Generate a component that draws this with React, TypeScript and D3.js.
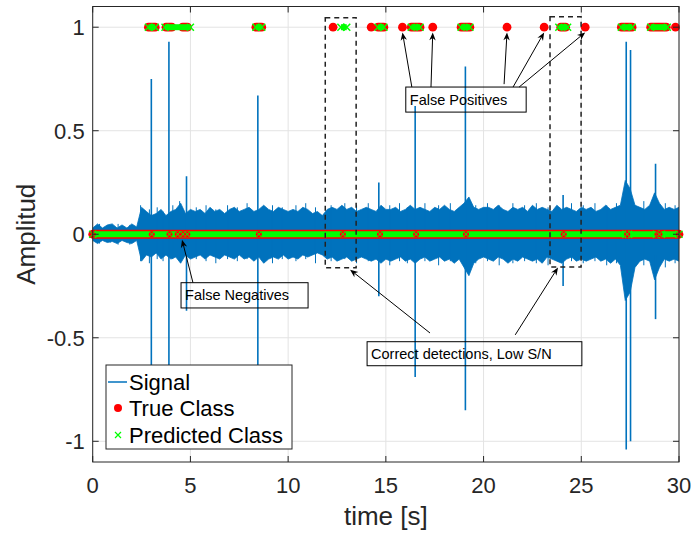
import React from 'react'
import * as d3 from 'd3'

const envStep = 0.25
const envTop = [
	0.03, 0.05, 0.03, 0.045, 0.05, 0.03, 0.045, 0.03, 0.05, 0.035,
	0.13, 0.11, 0.09, 0.10, 0.12, 0.09, 0.11, 0.12, 0.15, 0.10, 0.12,
	0.11, 0.12, 0.10, 0.13, 0.11, 0.12, 0.10, 0.12, 0.13, 0.11, 0.12, 0.13, 0.11, 0.12, 0.14, 0.12, 0.11, 0.13, 0.12, 0.11,
	0.12, 0.11, 0.13, 0.12, 0.10, 0.11, 0.09, 0.12, 0.13, 0.12, 0.14, 0.12, 0.13, 0.11, 0.12, 0.13, 0.12, 0.11, 0.14, 0.12,
	0.12, 0.13, 0.11, 0.12, 0.14, 0.12, 0.13, 0.12, 0.11, 0.13, 0.12, 0.14, 0.12, 0.11, 0.13, 0.15, 0.18, 0.13, 0.12, 0.13,
	0.13, 0.12, 0.14, 0.12, 0.11, 0.13, 0.12, 0.13, 0.11, 0.14, 0.12, 0.13, 0.12, 0.11, 0.14, 0.12, 0.13, 0.12, 0.11, 0.13,
	0.12, 0.13, 0.11, 0.12, 0.14, 0.12, 0.13, 0.14, 0.26, 0.22, 0.14, 0.13, 0.12, 0.14, 0.20, 0.15, 0.12, 0.13, 0.12, 0.13,
]
const envBottom = [
	-0.03, -0.045, -0.03, -0.04, -0.035, -0.045, -0.03, -0.04, -0.045, -0.03,
	-0.13, -0.10, -0.11, -0.09, -0.12, -0.10, -0.12, -0.11, -0.14, -0.10, -0.12,
	-0.11, -0.10, -0.12, -0.10, -0.11, -0.12, -0.10, -0.11, -0.12, -0.10, -0.12, -0.11, -0.13, -0.11, -0.14, -0.12, -0.11, -0.12, -0.10, -0.12,
	-0.11, -0.12, -0.10, -0.11, -0.10, -0.09, -0.10, -0.12, -0.11, -0.13, -0.12, -0.11, -0.13, -0.12, -0.11, -0.12, -0.13, -0.12, -0.14, -0.12,
	-0.13, -0.12, -0.11, -0.13, -0.12, -0.14, -0.12, -0.11, -0.13, -0.12, -0.11, -0.13, -0.12, -0.14, -0.12, -0.16, -0.20, -0.14, -0.12, -0.11,
	-0.12, -0.13, -0.11, -0.12, -0.14, -0.12, -0.13, -0.11, -0.12, -0.13, -0.12, -0.14, -0.11, -0.12, -0.13, -0.14, -0.12, -0.11, -0.13, -0.12,
	-0.13, -0.12, -0.11, -0.13, -0.12, -0.14, -0.12, -0.15, -0.32, -0.28, -0.16, -0.13, -0.12, -0.13, -0.22, -0.16, -0.12, -0.13, -0.12, -0.13,
]

// short noise hairs poking out of the band: [time, max, min]
const hairs = [
	[0.35, 0.05, -0.045], [0.9, 0.045, -0.04], [1.3, 0.05, -0.05], [1.9, 0.045, -0.05],
	[2.45, 0.14, -0.13], [2.9, 0.12, -0.14], [3.3, 0.13, -0.12], [3.6, 0.11, -0.13], [4.1, 0.14, -0.12],
	[4.45, 0.16, -0.11], [5.3, 0.13, -0.12], [5.8, 0.14, -0.13], [6.3, 0.12, -0.14], [6.9, 0.14, -0.12],
	[7.4, 0.13, -0.13], [7.9, 0.15, -0.12], [9.2, 0.14, -0.14], [9.7, 0.13, -0.12], [10.4, 0.14, -0.13],
	[10.9, 0.15, -0.12], [11.4, 0.13, -0.14], [12.2, 0.14, -0.13], [12.9, 0.15, -0.12], [13.5, 0.14, -0.14],
	[14.1, 0.15, -0.13], [15.2, 0.14, -0.15], [15.7, 0.15, -0.13], [16.1, 0.13, -0.14], [17.0, 0.15, -0.13],
	[17.7, 0.14, -0.15], [18.3, 0.15, -0.13], [19.6, 0.14, -0.14], [20.2, 0.15, -0.13], [20.8, 0.14, -0.15],
	[21.5, 0.15, -0.14], [22.1, 0.14, -0.13], [22.7, 0.15, -0.14], [23.3, 0.13, -0.15], [24.5, 0.15, -0.13],
	[25.1, 0.14, -0.14], [25.7, 0.15, -0.13], [26.3, 0.14, -0.15], [26.8, 0.15, -0.14], [28.2, 0.16, -0.15],
	[29.3, 0.15, -0.16], [29.8, 0.14, -0.14],
]

// isolated spikes: [time, max, min]
const spikes = [
	[3.0, 0.75, -0.8], [3.9, 0.93, -0.95], [4.8, 0.28, -0.37], [8.45, 0.67, -0.75],
	[14.64, 0.25, -0.3], [16.5, 0.62, -0.69], [19.07, 0.81, -0.85], [24.07, 0.19, -0.25],
	[27.3, 0.93, -1.04], [27.52, 0.89, -1.0], [28.8, 0.34, -0.41],
]

// class = 1 intervals [start, end] (s)
const trueOnes = [
	[2.85, 3.2], [3.75, 4.05], [4.6, 4.85], [8.35, 8.65], [12.3, 12.3], [14.25, 14.25],
	[14.6, 14.9], [15.85, 15.85], [16.3, 16.75], [17.4, 17.4], [18.85, 19.3], [21.2, 21.2],
	[23.1, 23.1], [23.95, 24.2], [25.2, 25.2], [27.05, 27.6], [28.55, 29.35], [29.82, 29.82],
]
const predOnes = [
	[2.85, 3.2], [3.7, 5.0], [8.35, 8.65], [12.7, 13.0], [14.6, 14.9], [16.3, 16.75],
	[18.85, 19.3], [23.85, 24.3], [27.05, 27.6], [28.55, 29.4],
]
// class = 0 intervals
const trueZeros = [[0, 30]]
const predZeros = [[0, 27.28], [27.42, 28.85], [29.1, 30]]
const zeroRedMarks = [0, 3.02, 3.93, 4.35, 4.62, 4.84, 8.5, 12.8, 14.7, 16.55, 19.1, 24.1, 27.35, 28.9, 29.0, 30]

const xTicks = [0, 5, 10, 15, 20, 25, 30]
const yTicks = [-1, -0.5, 0, 0.5, 1]
const yTickLabels = ['-1', '-0.5', '0', '0.5', '1']
const legendLabels = ['Signal', 'True Class', 'Predicted Class']

// annotations in data units
const fpBox = { t0: 16.02, t1: 22.18, a0: 0.711, a1: 0.59, text: 'False Positives' }
const fpArrows = [
	[16.33, 0.711, 15.85, 0.975], [17.31, 0.711, 17.4, 0.975], [21.05, 0.725, 21.2, 0.975],
	[21.51, 0.711, 23.1, 0.975], [21.82, 0.711, 25.2, 0.975],
]
const fnBox = { t0: 4.52, t1: 11.02, a0: -0.234, a1: -0.356, text: 'False Negatives' }
const fnArrows = [[5.13, -0.234, 4.57, -0.026]]
const cdBox = { t0: 14.04, t1: 25.03, a0: -0.519, a1: -0.635, text: 'Correct detections, Low S/N' }
const cdArrows = [[17.26, -0.477, 13.17, -0.171], [21.62, -0.486, 23.81, -0.16]]
const dashBoxes = [[11.9, 13.48, 1.046, -0.162], [23.4, 24.99, 1.05, -0.158]]

const W = 694
const H = 533
const M = { left: 92.7, right: 679, top: 6.5, bottom: 462 }
const FONT = '"Liberation Sans", Arial, Helvetica, sans-serif'
const AX = '#262626'
const BLUE = '#0072BD'
const RED = '#FF0000'
const GREEN = '#00FF00'

const x = d3.scaleLinear().domain([0, 30]).range([M.left, M.right])
const y = d3.scaleLinear().domain([-1.1, 1.1]).range([M.bottom, M.top])

function Cross({ cx, cy, s = 3.5, w = 1.5 }: { cx: number; cy: number; s?: number; w?: number }) {
	return (
		<path d={`M${cx - s},${cy - s}L${cx + s},${cy + s}M${cx - s},${cy + s}L${cx + s},${cy - s}`} stroke={GREEN} strokeWidth={w} fill="none" />
	)
}

function Arrow({ a }: { a: number[] }) {
	const x1 = x(a[0]), y1 = y(a[1]), x2 = x(a[2]), y2 = y(a[3])
	const ang = Math.atan2(y2 - y1, x2 - x1)
	const L = 8, Wd = 3.2
	const bx = x2 - L * Math.cos(ang), by = y2 - L * Math.sin(ang)
	const nx = -Math.sin(ang), ny = Math.cos(ang)
	const mx = x2 - L * 0.7 * Math.cos(ang), my = y2 - L * 0.7 * Math.sin(ang)
	const head = `M${x2},${y2}L${bx + nx * Wd},${by + ny * Wd}L${mx},${my}L${bx - nx * Wd},${by - ny * Wd}Z`
	return (
		<g>
			<line x1={x1} y1={y1} x2={mx} y2={my} stroke="#000" strokeWidth={1} />
			<path d={head} fill="#000" />
		</g>
	)
}

function TextBox({ b }: { b: { t0: number; t1: number; a0: number; a1: number; text: string } }) {
	const x0 = x(b.t0), x1 = x(b.t1), y0 = y(b.a0), y1 = y(b.a1)
	return (
		<g>
			<rect x={x0} y={y0} width={x1 - x0} height={y1 - y0} fill="none" stroke="#000" strokeWidth={1} />
			<text x={x0 + 4} y={(y0 + y1) / 2 + 5} fontSize={14.5} fontFamily={FONT} fill="#000">{b.text}</text>
		</g>
	)
}

function ClassRow({ level, reds, greens }: { level: number; reds: number[][]; greens: number[][] }) {
	const cy = y(level)
	const r = 4.4
	return (
		<g>
			{reds.map((iv, i) => (
				<rect key={'r' + i} x={x(iv[0]) - r} y={cy - r} width={x(iv[1]) - x(iv[0]) + 2 * r} height={2 * r} rx={r} fill={RED} />
			))}
			{greens.map((iv, i) => (
				<g key={'g' + i}>
					<rect x={x(iv[0])} y={cy - 3} width={x(iv[1]) - x(iv[0])} height={6} fill={GREEN} />
					<Cross cx={x(iv[0])} cy={cy} />
					<Cross cx={x(iv[1])} cy={cy} />
				</g>
			))}
		</g>
	)
}

export default function App() {
	const envData = envTop.map((v, i) => ({ t: i * envStep, hi: v, lo: envBottom[i] }))
	const area = d3.area<{ t: number; hi: number; lo: number }>()
		.x(d => x(d.t)).y0(d => y(d.lo)).y1(d => y(d.hi)).curve(d3.curveLinear)

	const legX = 106, legY = 365, legW = 186, legH = 84
	const rowY = [legY + 17, legY + 43, legY + 70]

	return (
		<svg width={W} height={H} style={{ position: 'absolute', left: 0, top: 0, background: '#fff' }}>
			<defs>
				<clipPath id="plotClip">
					<rect x={M.left} y={M.top} width={M.right - M.left} height={M.bottom - M.top} />
				</clipPath>
			</defs>
			<rect x={0} y={0} width={W} height={H} fill="#fff" />
			{/* grid */}
			<g stroke="#e3e3e3" strokeWidth={1}>
				{xTicks.map(t => <line key={'gx' + t} x1={x(t)} x2={x(t)} y1={M.top} y2={M.bottom} />)}
				{yTicks.map(t => <line key={'gy' + t} x1={M.left} x2={M.right} y1={y(t)} y2={y(t)} />)}
			</g>

			{/* signal */}
			<g clipPath="url(#plotClip)">
				<path d={area(envData) || ''} fill={BLUE} stroke={BLUE} strokeWidth={0.8} />
				{hairs.map((s, i) => (
					<line key={'h' + i} x1={x(s[0])} x2={x(s[0])} y1={y(s[1])} y2={y(s[2])} stroke={BLUE} strokeWidth={1} />
				))}
				{spikes.map((s, i) => (
					<line key={'s' + i} x1={x(s[0])} x2={x(s[0])} y1={y(s[1])} y2={y(s[2])} stroke={BLUE} strokeWidth={1.6} />
				))}
			</g>

			{/* classes */}
			<ClassRow level={0} reds={trueZeros} greens={predZeros} />
			{zeroRedMarks.map((t, i) => (
				<g key={'z' + i}>
					<circle cx={x(t)} cy={y(0)} r={3} fill={RED} />
					<Cross cx={x(t)} cy={y(0)} s={2.2} w={1} />
				</g>
			))}
			<ClassRow level={1} reds={trueOnes} greens={predOnes} />

			{/* axes box and ticks */}
			<rect x={M.left} y={M.top} width={M.right - M.left} height={M.bottom - M.top} fill="none" stroke={AX} strokeWidth={1} />
			<g stroke={AX} strokeWidth={1}>
				{xTicks.map(t => (
					<g key={'tx' + t}>
						<line x1={x(t)} x2={x(t)} y1={M.bottom} y2={M.bottom - 6} />
						<line x1={x(t)} x2={x(t)} y1={M.top} y2={M.top + 6} />
					</g>
				))}
				{yTicks.map(t => (
					<g key={'ty' + t}>
						<line x1={M.left} x2={M.left + 6} y1={y(t)} y2={y(t)} />
						<line x1={M.right} x2={M.right - 6} y1={y(t)} y2={y(t)} />
					</g>
				))}
			</g>
			<g fontFamily={FONT} fill={AX} fontSize={22}>
				{xTicks.map(t => (
					<text key={'lx' + t} x={x(t)} y={M.bottom + 31} textAnchor="middle">{t}</text>
				))}
				{yTicks.map((t, i) => (
					<text key={'ly' + t} x={M.left - 8} y={y(t) + 8} textAnchor="end">{yTickLabels[i]}</text>
				))}
			</g>
			<text x={(M.left + M.right) / 2} y={525} textAnchor="middle" fontSize={26} fontFamily={FONT} fill={AX}>time [s]</text>
			<text transform={`translate(35,${(M.top + M.bottom) / 2}) rotate(-90)`} textAnchor="middle" fontSize={26} fontFamily={FONT} fill={AX}>Amplitud</text>

			{/* annotations */}
			{dashBoxes.map((b, i) => (
				<rect key={'db' + i} x={x(b[0])} y={y(b[2])} width={x(b[1]) - x(b[0])} height={y(b[3]) - y(b[2])}
					fill="none" stroke="#222" strokeWidth={1.5} strokeDasharray="5,4" />
			))}
			<TextBox b={fpBox} />
			<TextBox b={fnBox} />
			<TextBox b={cdBox} />
			{[...fpArrows, ...fnArrows, ...cdArrows].map((a, i) => <Arrow key={'a' + i} a={a} />)}

			{/* legend */}
			<rect x={legX} y={legY} width={legW} height={legH} fill="#fff" stroke={AX} strokeWidth={1} />
			<line x1={legX + 2} x2={legX + 21} y1={rowY[0]} y2={rowY[0]} stroke={BLUE} strokeWidth={1.5} />
			<circle cx={legX + 12} cy={rowY[1]} r={4} fill={RED} />
			<Cross cx={legX + 12} cy={rowY[2]} s={3} w={1.2} />
			<g fontFamily={FONT} fill="#000" fontSize={22}>
				{legendLabels.map((l, i) => (
					<text key={l} x={legX + 23} y={rowY[i] + 8}>{l}</text>
				))}
			</g>
		</svg>
	)
}
